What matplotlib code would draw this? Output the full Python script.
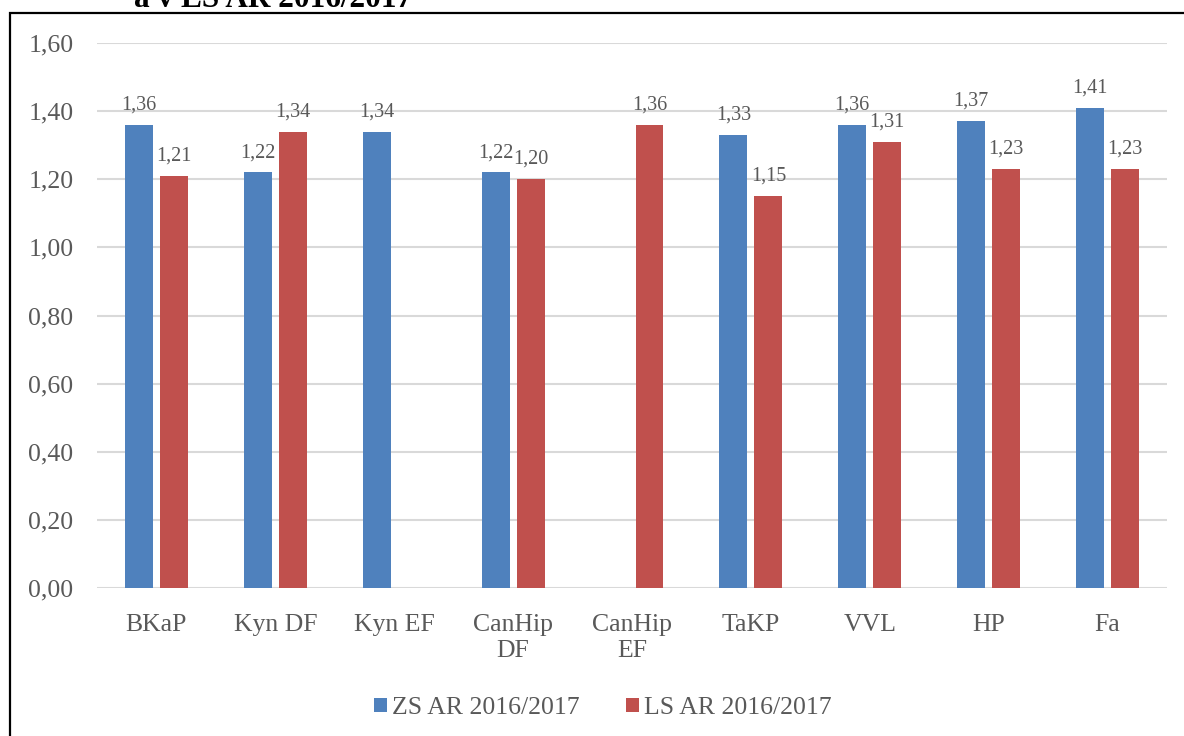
import numpy as np
import matplotlib.pyplot as plt
from matplotlib.patches import Rectangle

plt.rcParams['font.family'] = ['Liberation Serif', 'DejaVu Serif']

categories = ['BKaP', 'Kyn DF', 'Kyn EF', 'CanHip\nDF', 'CanHip\nEF', 'TaKP', 'VVL', 'HP', 'Fa']
zs = [1.36, 1.22, 1.34, 1.22, np.nan, 1.33, 1.36, 1.37, 1.41]
ls = [1.21, 1.34, np.nan, 1.20, 1.36, 1.15, 1.31, 1.23, 1.23]
series_names = ['ZS AR 2016/2017', 'LS AR 2016/2017']
colors = ['#4f81bd', '#c0504d']
grey = '#595959'

W, H = 1184, 736
fig = plt.figure(figsize=(W / 100, H / 100), dpi=100)
ax = fig.add_axes([97 / W, 1 - 588 / H, (1167 - 97) / W, (588 - 43) / H])

x = np.arange(len(categories))
bw = 0.235
off = 0.147
for vals, sign, col, name in zip([zs, ls], [-1, 1], colors, series_names):
    ax.bar(x + sign * off, vals, bw, color=col, label=name, zorder=3)
    for xi, v in zip(x, vals):
        if np.isnan(v):
            continue
        ax.text(xi + sign * off, v + 0.045, f'{v:.2f}'.replace('.', ','),
                ha='center', va='baseline', fontsize=14.5, color=grey)

ax.set_xlim(-0.5, len(categories) - 0.5)
ax.set_ylim(0, 1.6)
yt = np.arange(0, 1.61, 0.2)
ax.set_yticks(yt)
ax.set_yticklabels([f'{t:.2f}'.replace('.', ',') for t in yt], fontsize=18.5, color=grey)
ax.set_xticks(x)
ax.set_xticklabels(categories, fontsize=18.5, color=grey, linespacing=1.2)
ax.tick_params(axis='both', length=0)
ax.tick_params(axis='y', pad=17)
ax.tick_params(axis='x', pad=19)
ax.grid(axis='y', color='#d9d9d9', linewidth=1.5, zorder=0)
for s in ax.spines.values():
    s.set_visible(False)

leg = fig.legend(loc='center', bbox_to_anchor=(603 / W, 1 - 708 / H), ncol=2,
                 frameon=False, fontsize=18.5, handlelength=0.5, handleheight=0.5,
                 handletextpad=0.2, columnspacing=1.8)
for t in leg.get_texts():
    t.set_color(grey)

fig.text(134 / W, 1 - 7 / H, 'a v LS AR 2016/2017', fontsize=22.5, fontweight='bold',
         ha='left', va='baseline', color='black')

fig.patches.append(Rectangle((9.5 / W, -0.1), 1.2, 1 - 12.5 / H + 0.1,
                             transform=fig.transFigure, fill=False,
                             edgecolor='black', linewidth=1.6))

fig.savefig('out.png', dpi=100)
